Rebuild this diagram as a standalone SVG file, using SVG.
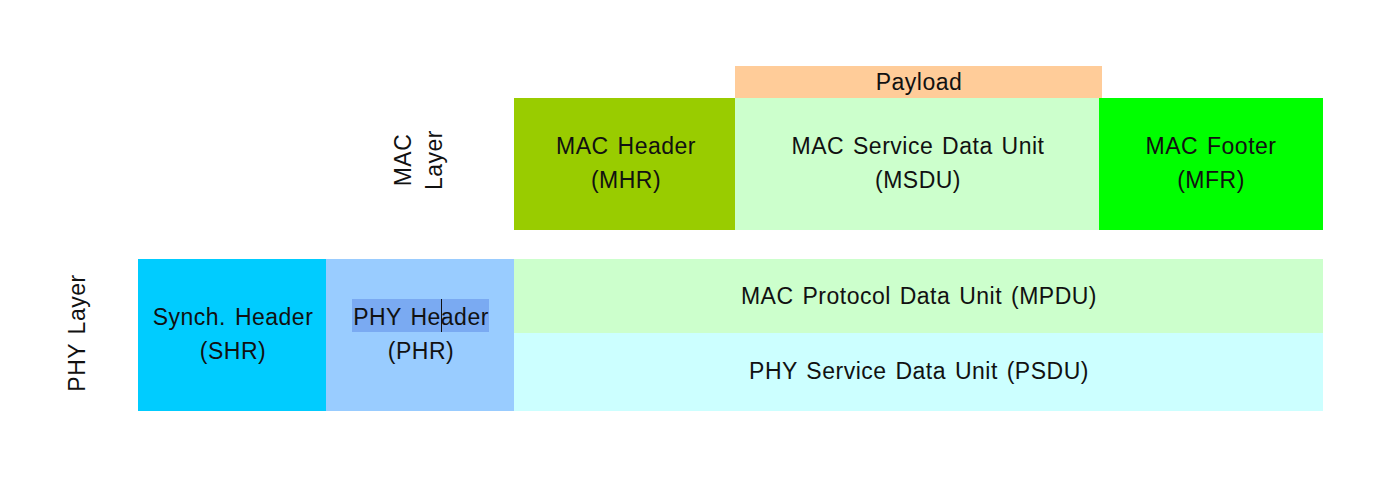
<svg xmlns="http://www.w3.org/2000/svg" width="1379" height="485" viewBox="0 0 1379 485">
<style>
text{font-family:"Liberation Sans",Arial,sans-serif;font-size:23px;fill:#111;text-anchor:middle;letter-spacing:0.5px;word-spacing:2px}
</style>
<rect width="1379" height="485" fill="#fff"/>
<g id="payload"><rect x="735" y="66" width="367" height="32" fill="#ffcc99"/><text x="919" y="90">Payload</text></g>
<g id="mhr"><rect x="514" y="98" width="221" height="132" fill="#99cc00"/><text x="626" y="154">MAC Header</text><text x="626" y="188">(MHR)</text></g>
<g id="msdu"><rect x="735" y="98" width="364" height="132" fill="#ccffcc"/><text x="918" y="154">MAC Service Data Unit</text><text x="918" y="188">(MSDU)</text></g>
<g id="mfr"><rect x="1099" y="98" width="224" height="132" fill="#00ff00"/><text x="1211" y="154">MAC Footer</text><text x="1211" y="188">(MFR)</text></g>
<g id="maclayer"><text transform="translate(411,160) rotate(-90)">MAC</text><text transform="translate(442,160) rotate(-90)">Layer</text></g>
<g id="phylayer"><text transform="translate(85,333) rotate(-90)">PHY Layer</text></g>
<g id="shr"><rect x="138" y="259" width="188" height="152" fill="#00ccff"/><text x="233" y="325">Synch. Header</text><text x="233" y="359">(SHR)</text></g>
<g id="phr"><rect x="326" y="259" width="188" height="152" fill="#99ccff"/><rect x="352" y="299" width="137" height="33" fill="#7aaaf2"/><line x1="441.5" y1="299" x2="441.5" y2="332" stroke="#111" stroke-width="1"/><text x="421" y="325">PHY Header</text><text x="421" y="359">(PHR)</text></g>
<g id="mpdu"><rect x="514" y="259" width="809" height="74" fill="#ccffcc"/><text x="919" y="304">MAC Protocol Data Unit (MPDU)</text></g>
<g id="psdu"><rect x="514" y="333" width="809" height="78" fill="#ccffff"/><text x="919" y="379">PHY Service Data Unit (PSDU)</text></g>
<g id="connectors"/>
</svg>
